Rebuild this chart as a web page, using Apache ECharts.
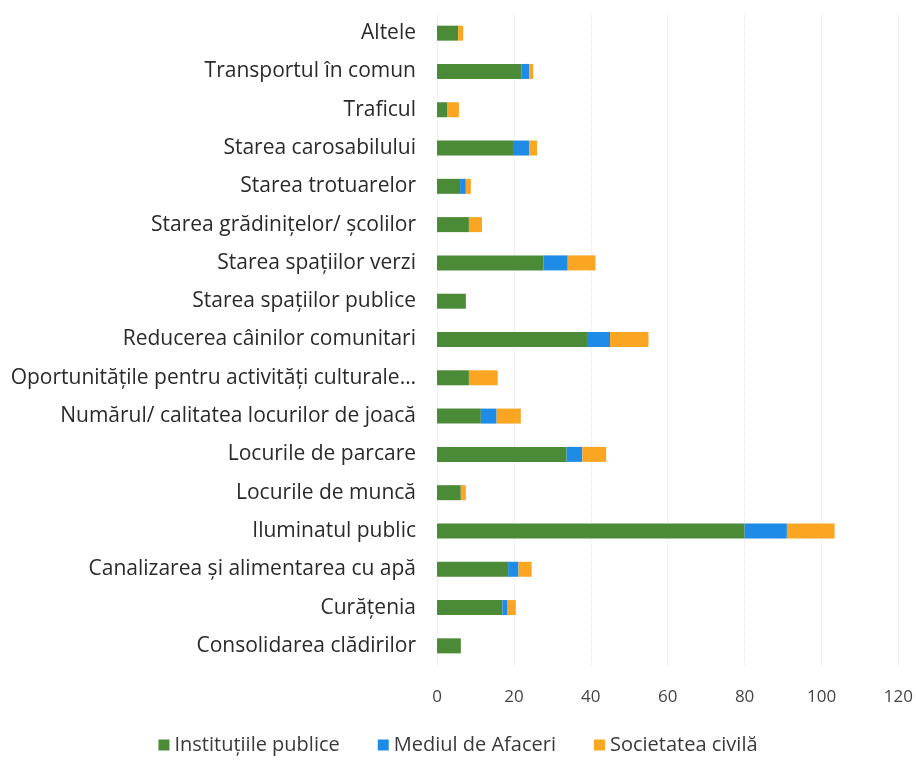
<!DOCTYPE html>
<html>
<head>
<meta charset="utf-8">
<script src="https://cdn.jsdelivr.net/npm/echarts@6/dist/echarts.min.js"></script>
<style>
	html, body { margin: 0; padding: 0; background: #fff; }
	#chart { width: 916px; height: 760px; }
</style>
</head>
<body>
<div id="chart"></div>
<script>
// categorii, de sus in jos
var categorii = [
	'Altele',
	'Transportul în comun',
	'Traficul',
	'Starea carosabilului',
	'Starea trotuarelor',
	'Starea grădinițelor/ școlilor',
	'Starea spațiilor verzi',
	'Starea spațiilor publice',
	'Reducerea câinilor comunitari',
	'Oportunitățile pentru activități culturale…',
	'Numărul/ calitatea locurilor de joacă',
	'Locurile de parcare',
	'Locurile de muncă',
	'Iluminatul public',
	'Canalizarea și alimentarea cu apă',
	'Curățenia',
	'Consolidarea clădirilor'
];
var seriiNume = ['Instituțiile publice', 'Mediul de Afaceri', 'Societatea civilă'];
var institutii = [5.5, 22, 2.6, 20, 6, 8.3, 27.7, 7.5, 39, 8.3, 11.4, 33.7, 6.2, 80, 18.5, 17, 6.2];
var afaceri    = [0, 2, 0, 4, 1.5, 0, 6.3, 0, 6, 0, 4.1, 4.1, 0, 11, 2.7, 1.2, 0];
var societate  = [1.3, 1, 3.1, 2, 1.3, 3.4, 7.2, 0, 10, 7.5, 6.3, 6.2, 1.3, 12.4, 3.4, 2.3, 0];
var ticks = [0, 20, 40, 60, 80, 100, 120];

var culori = ['#4b8a37', '#1e8ce6', '#fba623'];
var font = '"Open Sans", Lato, sans-serif';

var chart = echarts.init(document.getElementById('chart'));
var valori = [institutii, afaceri, societate];
var serii = seriiNume.map(function (n, i) {
	return {
		name: n,
		type: 'bar',
		stack: 'total',
		barWidth: 15,
		itemStyle: { color: culori[i] },
		data: valori[i]
	};
});

chart.setOption({
	animation: false,
	textStyle: { fontFamily: font },
	legend: {
		bottom: 0,
		left: 'center',
		itemWidth: 11,
		itemHeight: 11,
		itemGap: 38,
		icon: 'rect',
		textStyle: { fontSize: 20, color: '#3a3a3a', fontFamily: font },
		data: seriiNume
	},
	grid: { left: 437, right: 16, top: 14, bottom: 95 },
	xAxis: {
		type: 'value',
		min: ticks[0],
		max: ticks[ticks.length - 1],
		interval: 20,
		axisLine: { show: false },
		axisTick: { show: false },
		axisLabel: { fontSize: 17, color: '#444', margin: 24, fontFamily: font },
		splitLine: { lineStyle: { color: '#e4e4e4', type: 'dotted' } }
	},
	yAxis: {
		type: 'category',
		inverse: true,
		data: categorii,
		axisLine: { show: false },
		axisTick: { show: false },
		axisLabel: { fontSize: 21, color: '#2a2a2a', margin: 21, fontFamily: font }
	},
	series: serii
});
</script>
</body>
</html>
